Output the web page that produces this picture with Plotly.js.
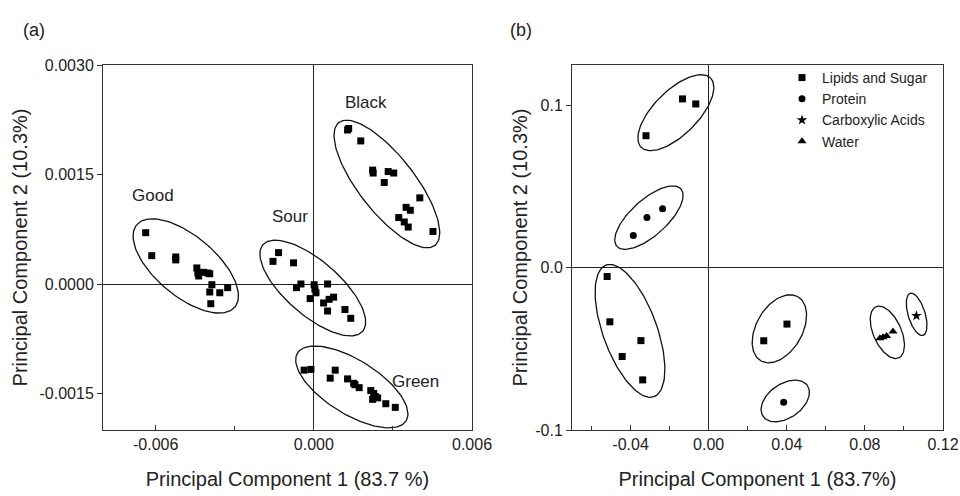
<!DOCTYPE html>
<html>
<head>
<meta charset="utf-8">
<script src="https://cdn.plot.ly/plotly-3.0.1.min.js"></script>
<style>html,body{margin:0;padding:0;background:#fff;}#chart{width:960px;height:496px;}</style>
</head>
<body>
<div id="chart"></div>
<script>
// ---------- Panel (a) data ----------
var goodX = [-0.00638,-0.00615,-0.00524,-0.00524,-0.00444,-0.00440,-0.00437,-0.00418,-0.00402,-0.00395,-0.00387,-0.00327,-0.00395,-0.00357,-0.00391];
var goodY = [0.000703,0.000388,0.00037,0.00033,0.00022,0.00015,0.00011,0.00016,0.00015,0.00014,-0.00001,-0.00005,-0.00011,-0.00012,-0.00027];
var sourX = [-0.00134,-0.00155,-0.00077,-0.00049,-0.00066,0.00001,0.00004,0.00008,0.00052,-0.00014,0.00037,0.00058,0.00075,0.00052,0.00118,0.00140];
var sourY = [0.00043,0.00031,0.00029,0.0,-0.00005,-0.00001,-0.00007,-0.00012,0.0,-0.00020,-0.00026,-0.00021,-0.00018,-0.00037,-0.00035,-0.00047];
var greenX = [-0.00037,-0.00011,0.00081,0.00062,0.00128,0.00151,0.00156,0.00172,0.00216,0.00227,0.00233,0.00242,0.00223,0.00273,0.00309];
var greenY = [-0.00118,-0.00117,-0.00118,-0.00129,-0.00130,-0.00136,-0.00138,-0.00142,-0.00146,-0.00150,-0.00154,-0.00156,-0.00158,-0.00164,-0.00169];
var blackX = [0.00132,0.00128,0.00178,0.00223,0.00225,0.00282,0.00303,0.00267,0.00402,0.00350,0.00366,0.00322,0.00343,0.00358,0.00452];
var blackY = [0.00213,0.00211,0.00196,0.00156,0.00152,0.00154,0.00152,0.00139,0.00118,0.00105,0.00101,0.00091,0.00085,0.00078,0.00072];
var groupNamesA = ["Good","Sour","Green","Black"];
var groupLabelX = [-0.00611,-0.00091,0.00387,0.00197];
var groupLabelY = [0.00121,0.00093,-0.00133,0.00248];
// ellipse centers (data units) for panel (a)
var ellACx = [-0.00486,-0.00004,0.00144,0.00277];
var ellACy = [0.000247,-0.000055,-0.00141,0.00137];

// ---------- Panel (b) data ----------
var lipidsX = [-0.0321,-0.0134,-0.0066,-0.0520,-0.0506,-0.0347,-0.0443,-0.0338,0.0282,0.0401];
var lipidsY = [0.0814,0.1041,0.1010,-0.0054,-0.0333,-0.0449,-0.0547,-0.0691,-0.0450,-0.0347];
var proteinX = [-0.0386,-0.0316,-0.0236,0.0384];
var proteinY = [0.0199,0.0310,0.0364,-0.0829];
var acidsX = [0.1064];
var acidsY = [-0.0296];
var waterX = [0.0877,0.0893,0.0911,0.0944];
var waterY = [-0.0434,-0.0428,-0.0420,-0.0393];
var seriesNamesB = ["Lipids and Sugar","Protein","Carboxylic Acids","Water"];
// ellipse centers (data units) for panel (b)
var ellBCx = [-0.0168,-0.0306,-0.0403,0.0362,0.0392,0.0915,0.1065];
var ellBCy = [0.0956,0.0309,-0.0389,-0.0376,-0.0821,-0.0398,-0.0287];

// ---------- Tick labels ----------
var axTickX = [-0.006,0.0,0.006];
var axTickXText = ["-0.006","0.000","0.006"];
var axTickY = [-0.0015,0.0,0.0015,0.0030];
var axTickYText = ["-0.0015","0.0000","0.0015","0.0030"];
var bxTickX = [-0.04,0.0,0.04,0.08,0.12];
var bxTickXText = ["-0.04","0.00","0.04","0.08","0.12"];
var byTickY = [-0.1,0.0,0.1];
var byTickYText = ["-0.1","0.0","0.1"];

// ---------- Styling / layout ----------
var W = 960, H = 496;
var domXA = [103/W, 472/W], domXB = [572/W, 943/W], domY = [1-430/H, 1-65/H];
var rangeXA = [-0.008, 0.006], rangeYA = [-0.002, 0.003];
var rangeXB = [-0.07, 0.12], rangeYB = [-0.1, 0.125];
// ellipse shape styles (pixels, screen angle in degrees, positive = down-right)
var ellAStyle = [[64,30,40],[66,27,41],[64,27,32],[78,28,52]];
var ellBStyle = [[49,22,-45],[43,18,-42],[70,27,70],[37,23,-60],[27,17,-35],[28,14,66],[22,8.5,73]];

function ellipsePts(cx, cy, a, b, deg, domx, domy, rx, ry) {
  var kx = (domx[1]-domx[0])*W/(rx[1]-rx[0]);
  var ky = (domy[1]-domy[0])*H/(ry[1]-ry[0]);
  var th = deg*Math.PI/180, xs=[], ys=[];
  for (var i=0;i<=120;i++){
    var t = 2*Math.PI*i/120;
    var px = a*Math.cos(t)*Math.cos(th) - b*Math.sin(t)*Math.sin(th);
    var py = a*Math.cos(t)*Math.sin(th) + b*Math.sin(t)*Math.cos(th);
    xs.push(cx + px/kx); ys.push(cy - py/ky);
  }
  return [xs, ys];
}

var font = "Liberation Sans, Arial, Helvetica, sans-serif";
var traces = [];
var sq = {symbol:'square', size:7, color:'#000'};
[[goodX,goodY],[sourX,sourY],[greenX,greenY],[blackX,blackY]].forEach(function(g){
  traces.push({x:g[0], y:g[1], type:'scatter', mode:'markers', marker:sq, xaxis:'x', yaxis:'y', showlegend:false, hoverinfo:'skip'});
});
for (var i=0;i<ellACx.length;i++){
  var e = ellipsePts(ellACx[i], ellACy[i], ellAStyle[i][0], ellAStyle[i][1], ellAStyle[i][2], domXA, domY, rangeXA, rangeYA);
  traces.push({x:e[0], y:e[1], type:'scatter', mode:'lines', line:{color:'#111', width:1.3}, xaxis:'x', yaxis:'y', showlegend:false, hoverinfo:'skip'});
}
for (var j=0;j<ellBCx.length;j++){
  var e2 = ellipsePts(ellBCx[j], ellBCy[j], ellBStyle[j][0], ellBStyle[j][1], ellBStyle[j][2], domXB, domY, rangeXB, rangeYB);
  traces.push({x:e2[0], y:e2[1], type:'scatter', mode:'lines', line:{color:'#111', width:1.3}, xaxis:'x2', yaxis:'y2', showlegend:false, hoverinfo:'skip'});
}
traces.push({x:lipidsX, y:lipidsY, name:seriesNamesB[0], type:'scatter', mode:'markers', marker:{symbol:'square', size:7, color:'#000'}, xaxis:'x2', yaxis:'y2'});
traces.push({x:proteinX, y:proteinY, name:seriesNamesB[1], type:'scatter', mode:'markers', marker:{symbol:'circle', size:7, color:'#000'}, xaxis:'x2', yaxis:'y2'});
traces.push({x:acidsX, y:acidsY, name:seriesNamesB[2], type:'scatter', mode:'markers', marker:{symbol:'star', size:8, color:'#000'}, xaxis:'x2', yaxis:'y2'});
traces.push({x:waterX, y:waterY, name:seriesNamesB[3], type:'scatter', mode:'markers', marker:{symbol:'triangle-up', size:8, color:'#000'}, xaxis:'x2', yaxis:'y2'});

function axisBase(extra){
  var base = {showgrid:false, showline:true, linecolor:'#333', linewidth:1, mirror:true,
    zeroline:true, zerolinecolor:'#222', zerolinewidth:1, tickmode:'array',
    tickfont:{family:font, size:16, color:'#222'}, tickcolor:'#333', ticklen:5};
  for (var k in extra) base[k]=extra[k];
  return base;
}

var annotations = [];
for (var n=0;n<groupNamesA.length;n++){
  annotations.push({x:groupLabelX[n], y:groupLabelY[n], xref:'x', yref:'y', text:groupNamesA[n], showarrow:false, font:{family:font, size:17, color:'#222'}});
}
annotations.push({x:21/W, y:1-18/H, xref:'paper', yref:'paper', text:'(a)', showarrow:false, font:{family:font, size:18, color:'#222'}});
annotations.push({x:521/W, y:1-18/H, xref:'paper', yref:'paper', text:'(b)', showarrow:false, font:{family:font, size:18, color:'#222'}});

var titleFont = {family:font, size:20, color:'#222'};
var layout = {
  width:W, height:H, margin:{l:0,r:0,t:0,b:0}, paper_bgcolor:'#fff', plot_bgcolor:'#fff',
  font:{family:font, color:'#222'},
  showlegend:true,
  legend:{x:782/W, y:1-62/H, xanchor:'left', yanchor:'top', bgcolor:'rgba(0,0,0,0)', font:{family:font, size:14, color:'#222'}, itemwidth:30, tracegroupgap:0},
  xaxis: axisBase({domain:domXA, range:rangeXA, anchor:'y', tickvals:axTickX, ticktext:axTickXText, ticks:'inside',
    minor:{tickmode:'linear', tick0:0, dtick:0.003, ticks:'inside', ticklen:4, tickcolor:'#333'},
    title:{text:'Principal Component 1 (83.7 %)', font:titleFont, standoff:19}}),
  yaxis: axisBase({domain:domY, range:rangeYA, anchor:'x', tickvals:axTickY, ticktext:axTickYText, ticks:'outside',
    title:{text:'Principal Component 2 (10.3%)', font:titleFont, standoff:6}}),
  xaxis2: axisBase({domain:domXB, range:rangeXB, anchor:'y2', tickvals:bxTickX, ticktext:bxTickXText, ticks:'inside',
    minor:{tickmode:'linear', tick0:0, dtick:0.02, ticks:'inside', ticklen:4, tickcolor:'#333'},
    title:{text:'Principal Component 1 (83.7%)', font:titleFont, standoff:19}}),
  yaxis2: axisBase({domain:domY, range:rangeYB, anchor:'x2', tickvals:byTickY, ticktext:byTickYText, ticks:'outside',
    title:{text:'Principal Component 2 (10.3%)', font:titleFont, standoff:2}}),
  annotations:annotations
};

Plotly.newPlot('chart', traces, layout, {staticPlot:true, displayModeBar:false});
</script>
</body>
</html>
